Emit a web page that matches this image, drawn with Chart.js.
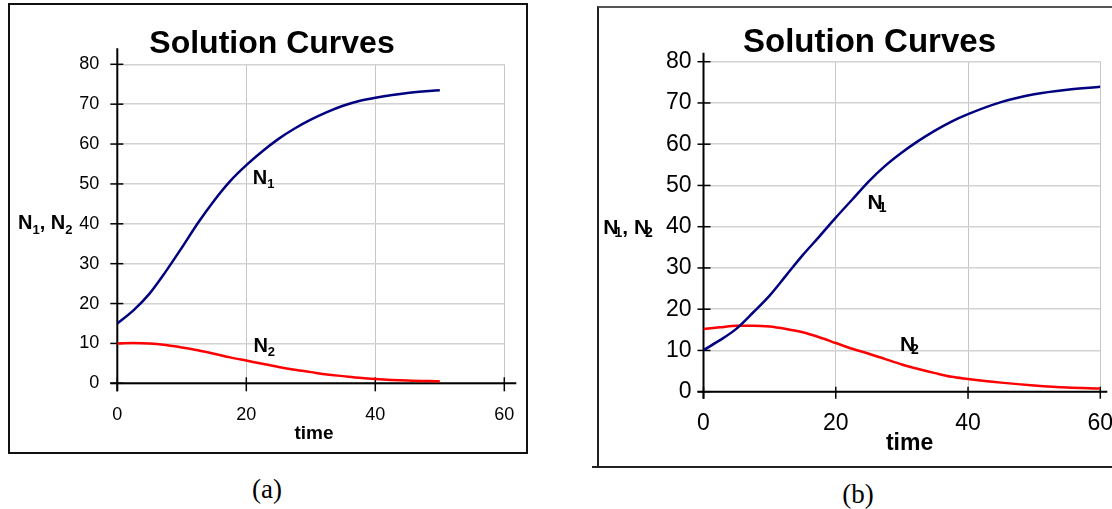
<!DOCTYPE html>
<html>
<head>
<meta charset="utf-8">
<script src="https://cdn.jsdelivr.net/npm/chart.js@4.4.1/dist/chart.umd.min.js"></script>
<style>
  html, body { margin: 0; padding: 0; background: #fff; overflow: hidden; }
  body { width: 1112px; height: 509px; position: relative; }
  canvas { position: absolute; top: 0; }
  .frame { position: absolute; box-sizing: border-box; }
  .cap { position: absolute; font-family: "Liberation Serif", "Times New Roman", serif; font-size: 27px; color: #000; transform: translate(-50%, -50%); white-space: nowrap; }
</style>
</head>
<body>
<div class="frame" style="left:8px; top:3px; width:520px; height:451px; border:2px solid #111;"></div>
<div class="frame" style="left:597px; top:6px; width:600px; height:462px; border-left:2px solid #222; border-top:2px solid #555;"></div>
<div class="frame" style="left:592px; top:466px; width:520px; height:2px; background:#222;"></div>
<div class="cap" style="left:267px; top:489px;">(a)</div>
<div class="cap" style="left:858px; top:494px;">(b)</div>
<canvas id="chA" width="556" height="509" style="left:0px;"></canvas>
<canvas id="chB" width="600" height="509" style="left:556px;"></canvas>
<script>
// Solution curves, panels (a) and (b)

// panel (a) data
const timeA = [0, 2.5, 5, 7.5, 10, 12.5, 15, 17.5, 20, 22.5, 25, 27.5, 30, 32.5, 35, 37.5, 40, 45, 50];
const n1A = [15, 18.3, 22.5, 28, 34, 40.2, 45.8, 50.7, 54.7, 58.2, 61.3, 63.9, 66.1, 68, 69.6, 70.8, 71.6, 72.8, 73.5];
const n2A = [10, 10.1, 10, 9.6, 9, 8.3, 7.4, 6.5, 5.7, 4.9, 4.1, 3.4, 2.8, 2.2, 1.8, 1.4, 1.1, 0.7, 0.5];

// panel (b) data
const timeB = [0, 2.5, 5, 7.5, 10, 12.5, 15, 17.5, 20, 22.5, 25, 27.5, 30, 32.5, 35, 37.5, 40, 45, 50, 55, 60];
const n1B = [10.1, 12.5, 15.3, 19.2, 23.3, 28.2, 33.1, 37.6, 42.2, 46.6, 51, 54.8, 58, 60.8, 63.3, 65.5, 67.3, 70.2, 72.1, 73.2, 73.9];
const n2B = [15.2, 15.6, 16, 16, 15.8, 15.2, 14.4, 13.2, 11.8, 10.4, 9.2, 7.9, 6.6, 5.5, 4.5, 3.6, 3.1, 2.2, 1.5, 1.0, 0.8];

// axis ranges / ticks
const xRange = [0, 60], xStep = 20;
const yRange = [0, 80], yStep = 10;

// where the curve names sit, in data units [time, value]
const labelPosA = { N1: [21, 50], N2: [21.1, 7.9] };
const labelPosB = { N1: [24.8, 44.2], N2: [29.7, 9.9] };

const SANS = '"Liberation Sans", Arial, sans-serif';

function zip(xs, ys) {
    return xs.map((x, i) => ({ x: x, y: ys[i] }));
}

// draws "N" + subscript pieces, left/baseline at (x, y)
function drawSubText(ctx, parts, x, y, size, subSize, subDy, subDx) {
    let cx = x;
    parts.forEach(p => {
        if (p.sub) {
            ctx.font = 'bold ' + subSize + 'px ' + SANS;
            ctx.fillText(p.t, cx + subDx, y + subDy);
            cx += ctx.measureText(p.t).width + subDx;
        } else {
            ctx.font = 'bold ' + size + 'px ' + SANS;
            ctx.fillText(p.t, cx, y);
            cx += ctx.measureText(p.t).width;
        }
    });
}

const decoPlugin = {
    id: 'deco',
    beforeDatasetsDraw(chart) {
        const d = chart.options.plugins.deco;
        const ctx = chart.ctx;
        const xs = chart.scales.x, ys = chart.scales.y;
        const ax = xs.getPixelForValue(0), ay = ys.getPixelForValue(0);
        const a = chart.chartArea;
        ctx.save();
        ctx.strokeStyle = '#000';
        // tick crosses
        ctx.lineWidth = 1.5;
        ys.ticks.forEach(t => {
            const py = ys.getPixelForValue(t.value);
            ctx.beginPath();
            ctx.moveTo(ax - d.yTickOut, py);
            ctx.lineTo(ax + d.yTickIn, py);
            ctx.stroke();
        });
        xs.ticks.forEach(t => {
            const px = xs.getPixelForValue(t.value);
            ctx.beginPath();
            ctx.moveTo(px, ay - d.xTickUp);
            ctx.lineTo(px, ay + d.xTickDown);
            ctx.stroke();
        });
        // axis lines
        ctx.lineWidth = d.axisWidth;
        ctx.beginPath();
        ctx.moveTo(ax, a.top - d.yExt);
        ctx.lineTo(ax, ay + d.xTickDown);
        ctx.moveTo(ax - d.yTickOut, ay);
        ctx.lineTo(a.right + d.xExt, ay);
        ctx.stroke();
        ctx.restore();
    },
    afterDraw(chart) {
        const d = chart.options.plugins.deco;
        const ctx = chart.ctx;
        const xs = chart.scales.x, ys = chart.scales.y;
        ctx.save();
        ctx.fillStyle = '#000';
        ctx.textBaseline = 'alphabetic';
        // title
        ctx.textAlign = 'center';
        ctx.font = 'bold ' + d.titleSize + 'px ' + SANS;
        ctx.fillText('Solution Curves', d.titleX, d.titleY);
        // x axis title
        ctx.font = 'bold ' + d.xTitleSize + 'px ' + SANS;
        ctx.fillText('time', d.xTitleX, d.xTitleY);
        // y axis title
        ctx.textAlign = 'left';
        drawSubText(ctx, [{ t: 'N' }, { t: '1', sub: true }, { t: ', ' }, { t: 'N' }, { t: '2', sub: true }],
            d.yTitleX, d.yTitleY, d.nameSize, d.subSize, d.subDy, d.subDx);
        // curve names
        const lp = d.labelPos;
        drawSubText(ctx, [{ t: 'N' }, { t: '1', sub: true }],
            xs.getPixelForValue(lp.N1[0]), ys.getPixelForValue(lp.N1[1]), d.nameSize, d.subSize, d.subDy, d.subDx);
        drawSubText(ctx, [{ t: 'N' }, { t: '2', sub: true }],
            xs.getPixelForValue(lp.N2[0]), ys.getPixelForValue(lp.N2[1]), d.nameSize, d.subSize, d.subDy, d.subDx);
        ctx.restore();
    }
};

function makeChart(id, times, n1, n2, cfg) {
    return new Chart(document.getElementById(id), {
        type: 'line',
        data: {
            datasets: [
                { label: 'N1', data: zip(times, n1), borderColor: '#000080', borderWidth: 2.5, pointRadius: 0, cubicInterpolationMode: 'monotone', fill: false },
                { label: 'N2', data: zip(times, n2), borderColor: '#ff0000', borderWidth: 2.5, pointRadius: 0, cubicInterpolationMode: 'monotone', fill: false }
            ]
        },
        options: {
            responsive: false,
            animation: false,
            devicePixelRatio: 1,
            layout: { padding: cfg.padding },
            scales: {
                x: {
                    type: 'linear',
                    min: xRange[0], max: xRange[1],
                    ticks: { stepSize: xStep, color: '#000', padding: cfg.xPad, font: { family: SANS, size: cfg.tickSize } },
                    grid: { color: '#c6c6c6', lineWidth: 1, drawTicks: false },
                    border: { display: false },
                    afterFit: s => { s.height = 40; }
                },
                y: {
                    min: yRange[0], max: yRange[1],
                    ticks: { stepSize: yStep, color: '#000', padding: cfg.yPad, font: { family: SANS, size: cfg.tickSize } },
                    grid: { color: '#d2d2d2', lineWidth: 1.5, drawTicks: false },
                    border: { display: false },
                    afterFit: s => { s.width = 40; }
                }
            },
            plugins: {
                legend: { display: false },
                tooltip: { enabled: false },
                deco: cfg.deco
            }
        },
        plugins: [decoPlugin]
    });
}

makeChart('chA', timeA, n1A, n2A, {
    padding: { left: 77.3, right: 51.7, top: 64.3, bottom: 85.7 },
    tickSize: 18, xPad: 21, yPad: 18,
    deco: {
        axisWidth: 2, yTickOut: 7, yTickIn: 6, xTickUp: 6, xTickDown: 8, yExt: 16, xExt: 12,
        titleSize: 32, titleX: 272, titleY: 53,
        xTitleSize: 19, xTitleX: 314, xTitleY: 439,
        yTitleX: 18, yTitleY: 229,
        nameSize: 20, subSize: 13, subDy: 4.5, subDx: 0,
        labelPos: labelPosA
    }
});

makeChart('chB', timeB, n1B, n2B, {
    padding: { left: 107.5, right: 55.7, top: 61.7, bottom: 77.3 },
    tickSize: 23, xPad: 18.5, yPad: 12,
    deco: {
        axisWidth: 2, yTickOut: 6, yTickIn: 7, xTickUp: 5, xTickDown: 7, yExt: 9, xExt: 7,
        titleSize: 33, titleX: 313.5, titleY: 52,
        xTitleSize: 23, xTitleX: 353.6, xTitleY: 450,
        yTitleX: 47.3, yTitleY: 234,
        nameSize: 21, subSize: 14, subDy: 3, subDx: -4,
        labelPos: labelPosB
    }
});
</script>
</body>
</html>
